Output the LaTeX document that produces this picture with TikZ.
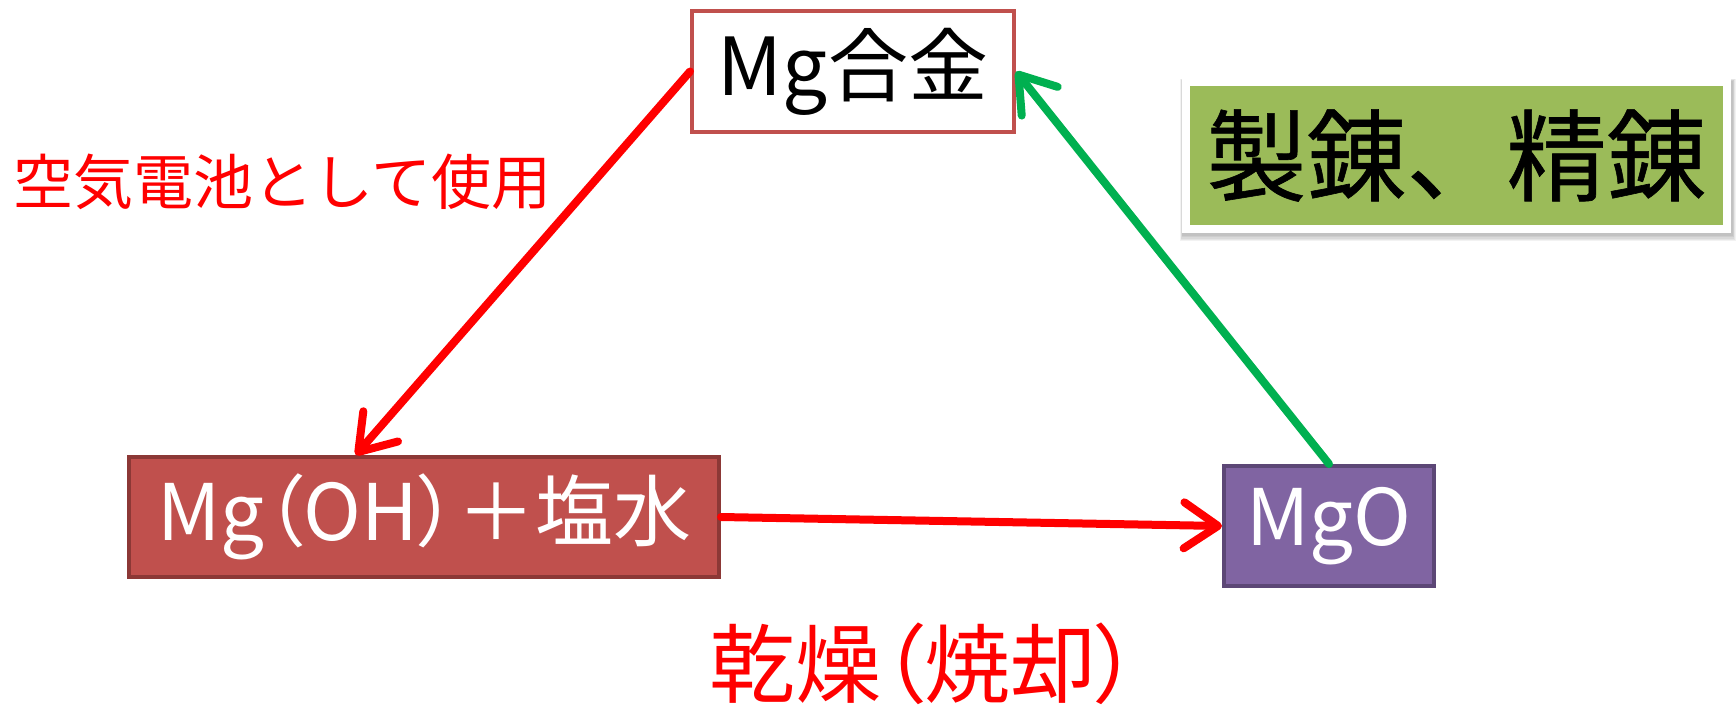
\documentclass[tikz,border=0pt]{standalone}
\usepackage{fontspec}
\setmainfont{Noto Sans CJK JP}
\newfontfamily\pf{Noto Sans CJK JP}[RawFeature=+palt]
\newfontfamily\cjkbold{Noto Sans CJK JP}[FakeBold=0.6]
\usetikzlibrary{arrows.meta,calc}
\definecolor{alloyred}{HTML}{C0504D}
\definecolor{ohborder}{HTML}{8C3836}
\definecolor{mgofill}{HTML}{8064A2}
\definecolor{mgoborder}{HTML}{5C4776}
\definecolor{labgreen}{HTML}{9BBB59}
\definecolor{arrgreen}{HTML}{00B050}
\definecolor{pured}{HTML}{FF0000}
\tikzset{
  box/.style={rectangle, line width=4pt, inner sep=0pt, align=center},
  conn/.style={line width=8pt, line cap=round,
    -{Straight Barb[length=34pt, width=46pt, line width=8pt, round]}},
  redlab/.style={text=pured, inner sep=0pt}
}
\begin{document}
\begin{tikzpicture}[x=1pt,y=-1pt]
\useasboundingbox[fill=white] (0,0) rectangle (1736,707);
% soft shadow of the label box
\foreach \g in {1,2,3,4,5}{
  \fill[black, opacity=0.05] (1182-\g*0.6+1,78-\g*0.4+3) rectangle (1731+\g*0.8+1,233+\g*1.2+2);
}
\node[box, draw=white, line width=8pt, fill=labgreen, minimum width=541pt, minimum height=147pt,
  font=\cjkbold\fontsize{100}{104}\selectfont] (refine) at (1456.5,155.5) {製錬、精錬};
\node[box, draw=alloyred, fill=white, minimum width=322pt, minimum height=121pt,
  font=\fontsize{80}{84}\selectfont] (alloy) at (853,71.5) {Mg合金};
\node[box, draw=ohborder, fill=alloyred, text=white, minimum width=590pt, minimum height=120pt,
  font=\pf\fontsize{78}{82}\selectfont] (oh) at (424,517) {Mg（OH）＋塩水};
\node[box, draw=mgoborder, fill=mgofill, text=white, minimum width=210pt, minimum height=120pt,
  font=\fontsize{78}{82}\selectfont] (mgo) at (1329,526) {MgO};
\node[redlab, anchor=west, font=\fontsize{60}{64}\selectfont] (aircell) at (13,182) {空気電池として使用};
\node[redlab, font=\pf\fontsize{86}{90}\selectfont] (dry) at (924,664) {乾燥（焼却）};
\coordinate (ohtop) at ($(oh.north west)!0.385!(oh.north east)$);
\draw[conn, pured] (alloy.west) -- (ohtop);
\draw[conn, pured] (oh.east) -- (mgo.west);
\draw[conn, arrgreen] (mgo.north) -- (alloy.east);
\end{tikzpicture}
\end{document}
